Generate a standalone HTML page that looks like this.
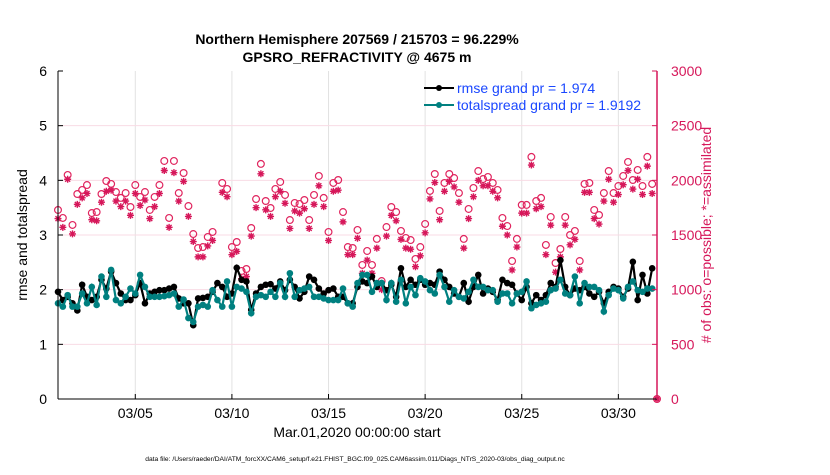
<!DOCTYPE html>
<html><head><meta charset="utf-8"><style>
body{margin:0;background:#fff;}
svg text{font-family:"Liberation Sans",sans-serif;}
</style></head><body>
<svg id="chart" width="830" height="470" xmlns="http://www.w3.org/2000/svg">
<g id="grid"></g>
<g id="obs"></g>
<g id="lines"></g>
<g id="axes"></g>
<text x="357" y="44" text-anchor="middle" font-size="14" font-weight="bold">Northern Hemisphere 207569 / 215703 = 96.229%</text>
<text x="357" y="62" text-anchor="middle" font-size="14" font-weight="bold">GPSRO_REFRACTIVITY @ 4675 m</text>
<text transform="translate(27,235) rotate(-90)" text-anchor="middle" font-size="14">rmse and totalspread</text>
<text transform="translate(711,235) rotate(-90)" text-anchor="middle" font-size="14" fill="#d6175a"># of obs: o=possible; *=assimilated</text>
<text x="357" y="437" text-anchor="middle" font-size="14">Mar.01,2020 00:00:00 start</text>
<text x="355" y="461" text-anchor="middle" font-size="6.7">data file: /Users/raeder/DAI/ATM_forcXX/CAM6_setup/f.e21.FHIST_BGC.f09_025.CAM6assim.011/Diags_NTrS_2020-03/obs_diag_output.nc</text>
<g>
<line x1="424" y1="88" x2="454" y2="88" stroke="#000" stroke-width="2"/>
<circle cx="439" cy="88" r="3" fill="#000"/>
<text x="457" y="93" font-size="14" fill="#1a47ff">rmse grand pr = 1.974</text>
<line x1="424" y1="105" x2="454" y2="105" stroke="#008080" stroke-width="2"/>
<circle cx="439" cy="105" r="3" fill="#008080"/>
<text x="457" y="110" font-size="14" fill="#1a47ff">totalspread grand pr = 1.9192</text>
</g>
</svg>
<script>
const xTickLabels=["03/05","03/10","03/15","03/20","03/25","03/30"];
const xTickDays=[4,9,14,19,24,29];
const yTicks=[0,1,2,3,4,5,6];
const y2Ticks=[0,500,1000,1500,2000,2500,3000];
const rmse=[1.96,1.81,1.87,1.75,1.62,2.09,1.87,1.81,1.87,2.18,2.02,2.33,2.12,1.93,1.81,1.81,1.90,2.12,1.75,1.93,1.96,1.99,1.99,2.02,2.05,1.84,1.75,1.75,1.35,1.84,1.85,1.87,1.96,2.12,2.05,1.87,1.93,2.40,2.18,2.15,1.63,
1.93,2.05,2.09,2.10,2.02,2.15,1.99,2.18,2.05,1.84,1.96,2.24,2.18,2.02,1.93,1.99,2.02,1.87,1.87,1.75,1.75,2.05,2.15,2.12,2.24,2.05,2.12,1.99,2.09,1.87,2.39,2.05,2.18,2.09,2.18,2.09,2.12,2.09,2.33,2.18,2.05,1.93,
1.87,2.12,1.78,2.05,2.27,1.93,2.02,1.96,1.81,2.18,2.12,2.09,1.93,1.81,2.05,1.75,1.90,1.81,1.90,2.12,2.05,2.54,2.05,1.90,2.02,1.99,2.05,1.93,1.87,1.96,1.75,1.96,2.05,2.02,1.87,2.02,2.51,1.81,2.27,1.93,2.39];
const spread=[1.75,1.69,1.90,1.69,1.69,1.93,1.75,2.05,1.72,2.24,1.87,2.36,1.81,1.75,1.87,2.02,1.93,2.27,2.05,1.87,1.87,1.87,1.88,1.90,1.93,1.69,1.82,1.48,1.41,1.69,1.72,1.69,1.99,1.81,1.69,2.15,1.69,2.05,2.02,1.96,1.57,
1.87,1.90,1.87,1.96,1.87,2.12,1.87,2.30,1.87,1.99,2.02,2.05,1.87,1.87,1.84,1.81,1.81,1.81,2.02,1.75,1.69,2.12,2.27,2.27,1.96,2.12,2.12,1.81,2.12,1.78,2.18,1.75,2.05,1.90,2.21,2.15,1.99,1.93,2.27,2.05,1.78,1.99,
1.87,1.84,1.96,2.18,2.05,2.05,1.99,1.99,1.78,1.93,1.93,1.75,1.93,1.96,2.15,1.66,1.72,1.75,1.78,1.99,2.02,2.18,1.93,1.90,2.24,1.75,2.12,2.05,2.05,1.99,1.60,1.90,2.02,1.99,1.84,2.05,2.15,1.99,1.96,2.02,2.02];
const possible=[1729,1656,2049,1592,1875,1912,1957,1701,1710,1875,1994,1967,1893,1839,1884,1756,1957,1848,1893,1729,1848,1957,2177,1656,2177,1884,2067,1765,1509,1381,1390,1482,1528,null,
1976,1921,1390,1436,1171,1189,1564,1829,2150,1811,1747,1921,1985,1866,1637,1793,1784,1820,1637,1866,2040,1839,1528,1976,2003,1710,1390,1381,1546,1226,1354,1226,1464,1079,1573,1756,1710,1537,1473,1454,1281,1390,1601,1903,2058,1720,1976,2058,2021,1884,
1464,1738,1930,2085,2012,2031,1976,1912,1656,1582,1262,1464,1775,1775,2214,1811,1839,1409,1665,1244,1372,1665,1500,1537,1262,1967,1976,1729,1683,1884,2085,1884,1948,2040,2168,2003,2095,1948,2214,1967,0];
const assimilated=[1650,1570,2010,1510,1780,1840,1880,1640,1630,1800,1900,1910,1810,1760,1810,1680,1880,1770,1820,1650,1760,1880,2090,1570,2070,1810,1990,1670,1440,1300,1300,1400,1450,null,
1890,1850,1320,1350,1100,1120,1490,1750,2060,1730,1670,1850,1900,1790,1560,1720,1700,1740,1560,1780,1950,1760,1450,1900,1910,1620,1320,1320,1470,1150,1270,1150,1380,1000,1490,1680,1630,1460,1380,1370,1210,1310,1520,1830,1980,1640,1900,1990,1940,1800,
1380,1650,1850,2000,1950,1950,1900,1840,1580,1500,1180,1390,1700,1700,2140,1740,1760,1320,1590,1160,1300,1590,1410,1460,1180,1890,1890,1650,1600,1810,2010,1800,1870,1960,2090,1920,2010,1870,2130,1880,0];
const SVGNS="http://www.w3.org/2000/svg";
const X0=58,X1=657,Y0=399,Y1=71,DAYS=31;
function xScale(d){return X0+(d/DAYS)*(X1-X0);}
function yScale(v){return Y0-(v/6)*(Y0-Y1);}
function y2Scale(n){return Y0-(n/3000)*(Y0-Y1);}
function mk(tag,attrs,parent){const e=document.createElementNS(SVGNS,tag);for(const k in attrs)e.setAttribute(k,attrs[k]);parent.appendChild(e);return e;}
const grid=document.getElementById('grid'),axes=document.getElementById('axes'),obs=document.getElementById('obs'),lines=document.getElementById('lines');
xTickDays.forEach((d,i)=>{
  const g=mk('line',{x1:xScale(d),x2:xScale(d),y1:Y1,y2:Y0,stroke:'#e2e2e2','stroke-width':1},grid);
  
  
  const t=mk('line',{x1:xScale(d),x2:xScale(d),y1:Y0,y2:Y0-5,stroke:'#000'},axes);
  
  
  const l=mk('text',{x:xScale(d),y:Y0+19,'text-anchor':'middle','font-size':14},axes);
  l.textContent=xTickLabels[i];
  
  
});
y2Ticks.forEach(n=>{
  if(n>0&&n<3000){const g=mk('line',{x1:X0,x2:X1,y1:y2Scale(n),y2:y2Scale(n),stroke:'#f8dbe4','stroke-width':1},grid);
  
  }
  const t=mk('line',{x1:X1,x2:X1-5,y1:y2Scale(n),y2:y2Scale(n),stroke:'#d6175a'},axes);
  
  
  const l=mk('text',{x:X1+14,y:y2Scale(n)+5,'font-size':14,fill:'#d6175a'},axes);
  l.textContent=n;
  
  
});
yTicks.forEach(v=>{
  const t=mk('line',{x1:X0,x2:X0+5,y1:yScale(v),y2:yScale(v),stroke:'#000'},axes);
  
  
  const l=mk('text',{x:X0-11,y:yScale(v)+5,'text-anchor':'end','font-size':14},axes);
  l.textContent=v;
  
  
});
const la=mk('line',{x1:X0,x2:X0,y1:Y1,y2:Y0,stroke:'#000'},axes);


const ba=mk('line',{x1:X0,x2:X1,y1:Y0,y2:Y0,stroke:'#000'},axes);


const ra=mk('line',{x1:X1,x2:X1,y1:Y1,y2:Y0,stroke:'#d6175a','stroke-width':1.5},axes);


possible.forEach((n,i)=>{
  if(n===null)return;
  const c=mk('circle',{cx:xScale(i/4),cy:y2Scale(n),r:3.4,fill:'none',stroke:'#e0245e','stroke-width':1.2},obs);
  
  
});
assimilated.forEach((n,i)=>{
  if(n===null)return;
  const x=xScale(i/4),y=y2Scale(n),r=3.5;
  const s=mk('path',{d:`M${x-r},${y}H${x+r}M${x},${y-r}V${y+r}M${x-2.5},${y-2.5}L${x+2.5},${y+2.5}M${x-2.5},${y+2.5}L${x+2.5},${y-2.5}`,stroke:'#d6175a','stroke-width':1.4,fill:'none'},obs);
  
  
});
function drawSeries(arr,color,name){
  const pts=arr.map((v,i)=>xScale(i/4).toFixed(1)+','+yScale(v).toFixed(1)).join(' ');
  const p=mk('polyline',{points:pts,fill:'none',stroke:color,'stroke-width':2.2},lines);
  
  
  arr.forEach((v,i)=>{
    const c=mk('circle',{cx:xScale(i/4),cy:yScale(v),r:3.3,fill:color},lines);
    
    
  });
}
drawSeries(rmse,'#000','rmse');
drawSeries(spread,'#008080','totalspread');
</script>
</body></html>
